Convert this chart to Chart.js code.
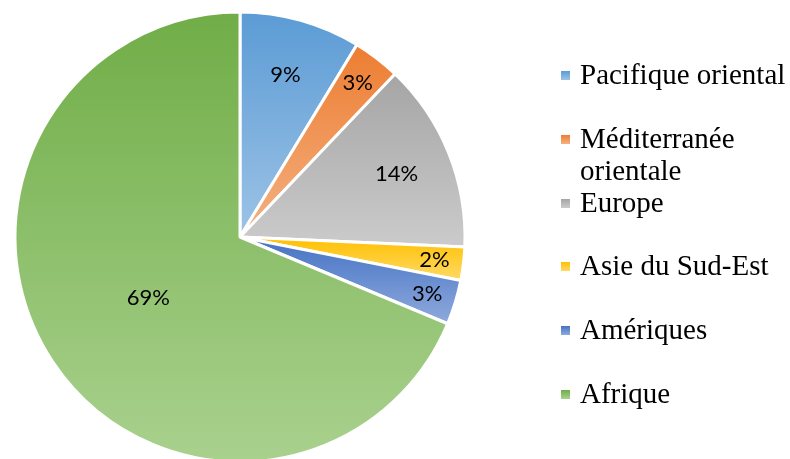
<!DOCTYPE html>
<html>
<head>
<meta charset="utf-8">
<script src="https://cdn.jsdelivr.net/npm/chart.js@4"></script>
<style>
  html, body { margin: 0; padding: 0; background: #fff; overflow: hidden; }
  #wrap { position: relative; width: 790px; height: 470px; }
  #pieChart { position: absolute; left: 0; top: 0; }
  .lg-item { position: absolute; left: 580px; width: 209px; font: 29px/32px "Liberation Serif", "Times New Roman", serif; color: #000; }
  .lg-box { position: absolute; left: 561px; width: 9px; height: 9px; }
</style>
</head>
<body>
<div id="wrap"><canvas id="pieChart" width="790" height="470"></canvas></div>
<script>
// regions, clockwise from 12 o'clock
const regions = ['Pacifique oriental', 'Méditerranée orientale', 'Europe', 'Asie du Sud-Est', 'Amériques', 'Afrique'];
const shares = [8.7, 3.4, 13.6, 2.4, 3.2, 68.7];

// office-style gradient ends (dark top -> light bottom)
const topColors = ['#5B9BD5', '#ED7D31', '#A5A5A5', '#FFC000', '#4472C4', '#70AD47'];
const bottomColors = ['#9DC3E6', '#F4B183', '#CBCBCB', '#FFD966', '#8FAADC', '#A9D18E'];

// where each % label sits, as fraction of the radius
const labelRadius = [0.75, 0.86, 0.75, 0.87, 0.87, 0.49];

const BORDER = 3;

function pieGeometry(chart) {
    const a = chart.chartArea;
    return {
        cx: (a.left + a.right) / 2,
        cy: (a.top + a.bottom) / 2,
        r: (Math.min(a.width, a.height) - BORDER) / 2
    };
}

// start/end angle of slice i, degrees clockwise from top
function sliceAngles(i) {
    const total = shares.reduce((s, v) => s + v, 0);
    let before = 0;
    for (let k = 0; k < i; k++) before += shares[k];
    return [before / total * 360, (before + shares[i]) / total * 360];
}

// each slice gets its own vertical gradient over its own height
function sliceGradient(context) {
    const chart = context.chart;
    const i = context.dataIndex;
    if (!chart.chartArea) return topColors[i];
    const g = pieGeometry(chart);
    const [a0, a1] = sliceAngles(i);
    const ys = [g.cy];
    [a0, a1].forEach(a => ys.push(g.cy - g.r * Math.cos(a * Math.PI / 180)));
    if (a0 <= 0 || a1 >= 360) ys.push(g.cy - g.r);
    if (a0 <= 180 && a1 >= 180) ys.push(g.cy + g.r);
    const y0 = Math.min(...ys), y1 = Math.max(...ys);
    const grad = chart.ctx.createLinearGradient(0, y0, 0, y1);
    grad.addColorStop(0, topColors[i]);
    grad.addColorStop(1, bottomColors[i]);
    return grad;
}

// percentage labels inside the slices
const sliceLabels = {
    id: 'sliceLabels',
    afterDatasetsDraw(chart) {
        const ctx = chart.ctx;
        const meta = chart.getDatasetMeta(0);
        const total = shares.reduce((s, v) => s + v, 0);
        ctx.save();
        ctx.font = '22px Lato';
        ctx.fillStyle = '#000';
        ctx.textAlign = 'center';
        ctx.textBaseline = 'middle';
        meta.data.forEach((arc, i) => {
            const mid = (arc.startAngle + arc.endAngle) / 2;
            const rr = arc.outerRadius * labelRadius[i];
            const x = arc.x + Math.cos(mid) * rr;
            const y = arc.y + Math.sin(mid) * rr;
            ctx.fillText(Math.round(shares[i] / total * 100) + '%', x, y);
        });
        ctx.restore();
    }
};

const ctxPie = document.getElementById('pieChart').getContext('2d');
const pieChart = new Chart(ctxPie, {
    type: 'pie',
    data: {
        labels: regions,
        datasets: [{
            data: shares,
            backgroundColor: sliceGradient,
            borderColor: '#ffffff',
            borderWidth: BORDER
        }]
    },
    options: {
        responsive: false,
        animation: false,
        layout: {
            padding: { left: 13.5, top: 10.5, right: 323.5, bottom: 6.5 }
        },
        plugins: {
            legend: { display: false },
            tooltip: { enabled: false }
        }
    },
    plugins: [sliceLabels]
});

// html legend on the right (serif text, small gradient squares)
const wrap = document.getElementById('wrap');
regions.forEach((name, i) => {
    const base = 84 + i * 63.8;
    const box = document.createElement('div');
    box.className = 'lg-box';
    box.style.top = (base - 13) + 'px';
    box.style.background = 'linear-gradient(' + topColors[i] + ', ' + bottomColors[i] + ')';
    wrap.appendChild(box);

    const txt = document.createElement('div');
    txt.className = 'lg-item';
    txt.style.top = (base - 26) + 'px';
    txt.textContent = name;
    wrap.appendChild(txt);
});
</script>
</body>
</html>
